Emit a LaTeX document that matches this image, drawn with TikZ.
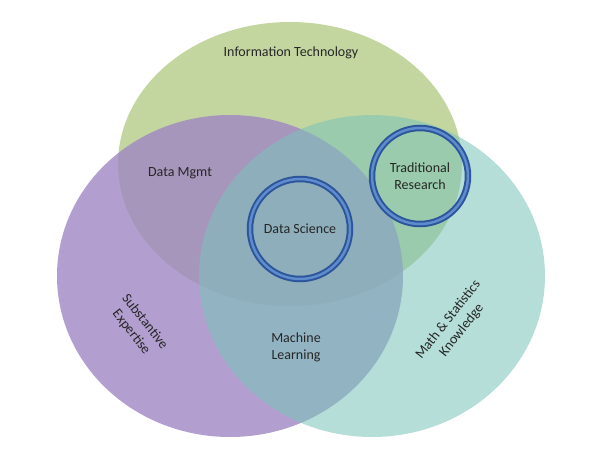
\documentclass[tikz,border=0pt]{standalone}
\usepackage{fontspec}
\setmainfont{Carlito}
\begin{document}
\begin{tikzpicture}[x=1pt,y=-1pt,
  lbl/.style={font=\fontsize{14}{17}\selectfont,align=center,text=black!85},
  ring/.style={circle,draw={rgb,255:red,45;green,85;blue,155},double={rgb,255:red,95;green,140;blue,205},double distance=2.5pt,line width=2pt,minimum size=#1,inner sep=0pt}]
\useasboundingbox (0,0) rectangle (600,450);
\fill[fill={rgb,255:red,196;green,214;blue,160}] (290,164) ellipse [x radius=172,y radius=142];
\fill[fill={rgb,255:red,160;green,135;blue,195},fill opacity=0.8] (230,276) ellipse [x radius=173,y radius=161];
\fill[fill={rgb,255:red,120;green,195;blue,185},fill opacity=0.55] (372,276) ellipse [x radius=173,y radius=161];
\node[ring=100pt] (ds) at (300,229) {};
\node[ring=96pt] (tr) at (420,176) {};
\node[lbl] (it) at (291,53) {Information Technology};
\node[lbl] (dm) at (180,173) {Data Mgmt};
\node[lbl] at (ds) {Data Science};
\node[lbl] at (tr) {Traditional\\Research};
\node[lbl] (ml) at (296,347) {Machine\\Learning};
\node[lbl,rotate=-52] (se) at (138,327) {Substantive\\Expertise};
\node[lbl,rotate=52] (ms) at (455,325) {Math \& Statistics\\Knowledge};
\end{tikzpicture}
\end{document}
